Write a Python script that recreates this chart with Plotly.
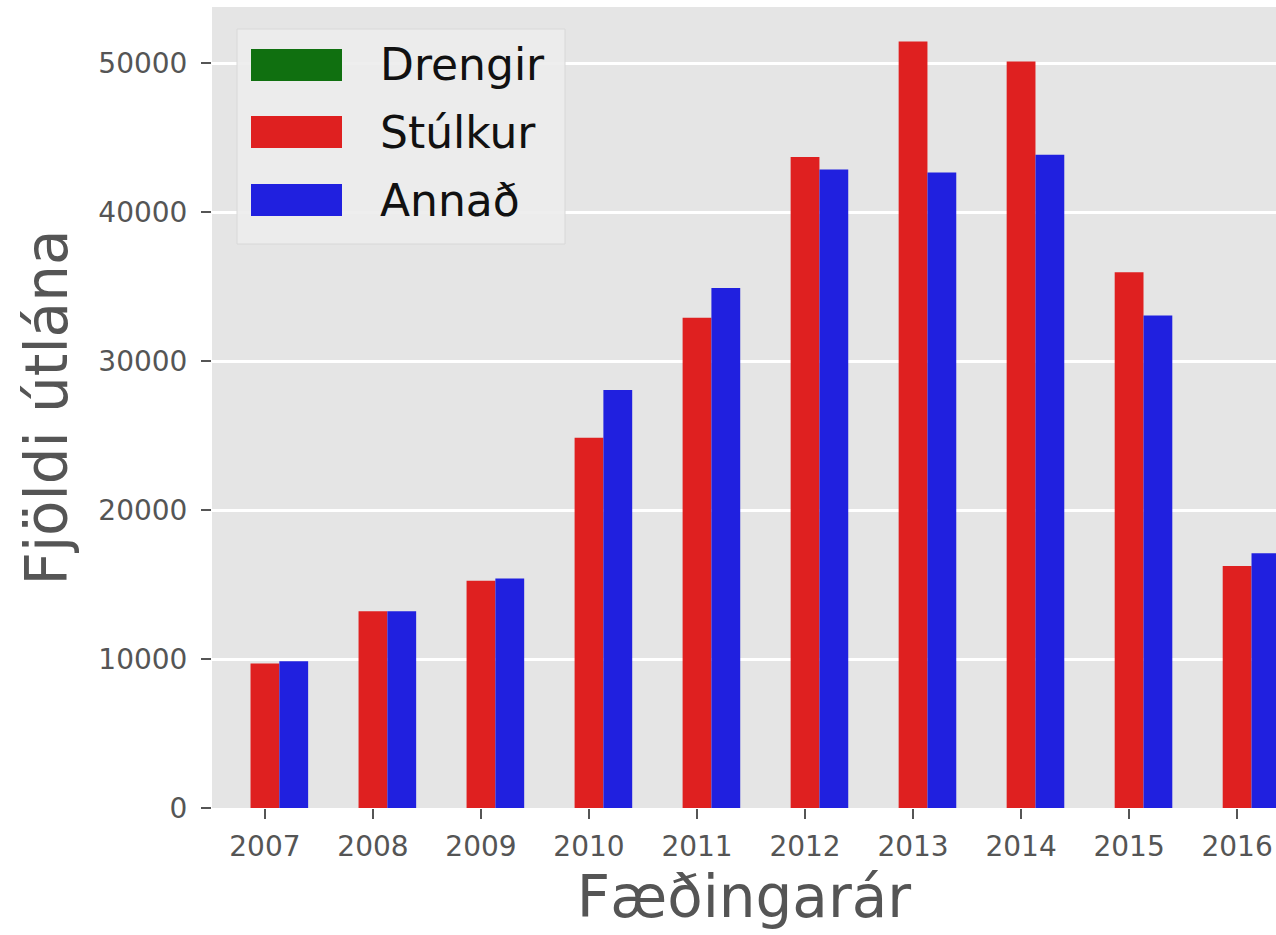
import plotly.graph_objects as go

# ---- data ----
years = ["2007", "2008", "2009", "2010", "2011", "2012", "2013", "2014", "2015", "2016"]
series_names = ["Drengir", "Stúlkur", "Annað"]
drengir = [0, 0, 0, 0, 0, 0, 0, 0, 0, 0]
stulkur = [9700, 13200, 15250, 24850, 32900, 43700, 51450, 50100, 35950, 16250]
annad = [9850, 13200, 15400, 28050, 34900, 42850, 42650, 43850, 33050, 17100]
series_values = [drengir, stulkur, annad]
colors = ["#107010", "#DF2020", "#2020DF"]
y_ticks = [0, 10000, 20000, 30000, 40000, 50000]

W, H = 1276, 935
L, R, T, B = 212, 0, 7, 127
plot_w = W - L - R
plot_h = H - T - B

def px_x(px):
    return (px - L) / plot_w

def px_y(py):
    return (H - B - py) / plot_h

fig = go.Figure()
for name, vals, col in zip(series_names, series_values, colors):
    fig.add_trace(go.Bar(x=years, y=vals, name=name, marker=dict(color=col, line=dict(width=0)),
                         showlegend=False))

tick_font = dict(family="DejaVu Sans", size=28, color="#555555")
title_font = dict(family="DejaVu Sans", size=58, color="#555555")

fig.update_layout(
    width=W, height=H,
    margin=dict(l=L, r=R, t=T, b=B, autoexpand=False),
    paper_bgcolor="white",
    plot_bgcolor="#E5E5E5",
    barmode="group",
    bargap=0.2,
    bargroupgap=0,
    xaxis=dict(
        type="category",
        range=[-0.49, 9.36],
        showgrid=False,
        zeroline=False,
        ticks="outside", ticklen=10, tickwidth=1.5, tickcolor="#555555",
        tickfont=tick_font,
        ticklabelstandoff=3,
        title=dict(text="Fæðingarár", font=title_font, standoff=8),
        showline=False,
    ),
    yaxis=dict(
        range=[0, 53760],
        tickvals=y_ticks,
        tickformat="d",
        showgrid=True, gridcolor="white", gridwidth=2.5,
        zeroline=False,
        ticks="outside", ticklen=10, tickwidth=1.5, tickcolor="#555555",
        tickfont=tick_font,
        ticklabelstandoff=8,
        title=dict(text="Fjöldi útlána", font=title_font, standoff=12),
        showline=False,
    ),
)

# ---- manual legend (matplotlib-style large patches) ----
shapes = [dict(type="rect", xref="paper", yref="paper",
               x0=px_x(237), x1=px_x(565), y0=px_y(244), y1=px_y(29),
               fillcolor="rgba(236,236,236,0.9)", line=dict(color="#D8D8D8", width=1),
               layer="above")]
annotations = []
row_centers = [65, 132, 200]
for name, col, cy in zip(series_names, colors, row_centers):
    shapes.append(dict(type="rect", xref="paper", yref="paper",
                       x0=px_x(251), x1=px_x(342), y0=px_y(cy + 16), y1=px_y(cy - 16),
                       fillcolor=col, line=dict(width=0), layer="above"))
    annotations.append(dict(xref="paper", yref="paper", x=px_x(378), y=px_y(cy),
                            xanchor="left", yanchor="middle", showarrow=False,
                            text=name, font=dict(family="DejaVu Sans", size=44, color="#111111")))
fig.update_layout(shapes=shapes, annotations=annotations)

fig.write_html("out.html", config={"displayModeBar": False},
               post_script="document.body.style.margin='0';document.body.style.overflow='hidden';")
